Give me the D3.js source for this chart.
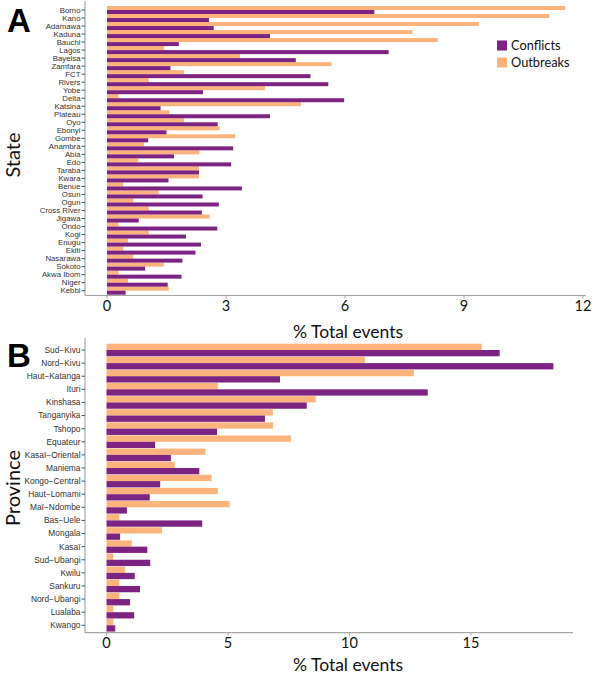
<!DOCTYPE html>
<html><head><meta charset="utf-8">
<script src="https://cdn.jsdelivr.net/npm/d3@7"></script>
<style>body{margin:0;background:#fff}svg{display:block}</style>
</head><body>
<svg id="c" width="600" height="677"></svg>
<script>
const states = ["Borno","Kano","Adamawa","Kaduna","Bauchi","Lagos","Bayelsa","Zamfara","FCT","Rivers","Yobe","Delta","Katsina","Plateau","Oyo","Ebonyi","Gombe","Anambra","Abia","Edo","Taraba","Kwara","Benue","Osun","Ogun","Cross River","Jigawa","Ondo","Kogi","Enugu","Ekiti","Nasarawa","Sokoto","Akwa Ibom","Niger","Kebbi"];
const stateConflicts = [6.74,2.57,2.69,4.11,1.81,7.10,4.76,1.60,5.13,5.58,2.42,5.98,1.35,4.11,2.79,1.50,1.04,3.18,1.69,3.13,2.32,1.55,3.40,2.41,2.82,2.39,0.80,2.78,1.99,2.37,2.23,1.90,0.96,1.88,1.53,0.47];
const stateOutbreaks = [11.55,11.15,9.37,7.70,8.34,1.44,3.35,5.66,1.94,1.05,3.98,0.29,4.89,1.57,1.94,2.84,3.23,0.93,2.33,0.79,2.32,2.32,0.41,1.30,0.66,1.05,2.59,0.29,1.05,0.53,0.41,0.66,1.43,0.29,0.53,1.56];
const provinces = ["Sud−Kivu","Nord−Kivu","Haut−Katanga","Ituri","Kinshasa","Tanganyika","Tshopo","Equateur","Kasaï−Oriental","Maniema","Kongo−Central","Haut−Lomami","Maï−Ndombe","Bas−Uele","Mongala","Kasaï","Sud−Ubangi","Kwilu","Sankuru","Nord−Ubangi","Lualaba","Kwango"];
const provConflicts = [16.18,18.39,7.14,13.22,8.24,6.52,4.55,2.00,2.65,3.82,2.21,1.78,0.84,3.94,0.56,1.68,1.80,1.16,1.38,0.97,1.14,0.36];
const provOutbreaks = [15.44,10.64,12.65,4.58,8.61,6.85,6.85,7.59,4.07,2.81,4.33,4.58,5.07,0.53,2.28,1.04,0.28,0.77,0.53,0.53,0.28,0.28];
const ticksA = [0,3,6,9,12];
const ticksB = [0,5,10,15];
const seriesNames = ["Conflicts","Outbreaks"];
const colors = {Conflicts:"#7d2482", Outbreaks:"#fdb47c"};

const svg = d3.select("#c");
const numFont = "Lato, 'Open Sans', sans-serif";
const labFont = "'Liberation Sans', Arial, sans-serif";
const axisCol = "#a6a6a6";

function panel(opts){
  const {cats, conf, outb, ticks, xDomain, xRange, yRange, axisTop, axisY, axisRight, letter, letterY, yTitle, yTitleY, labSize, barFrac, tickBase, titleBase} = opts;
  const g = svg.append("g");
  const x = d3.scaleLinear().domain(xDomain).range(xRange);
  const y = d3.scaleBand().domain(cats).range(yRange).paddingInner(0).paddingOuter(0);
  const sub = d3.scaleBand().domain(["Outbreaks","Conflicts"]).range([0, y.bandwidth()*barFrac]);
  const off = y.bandwidth()*(1-barFrac)/2;
  const rows = cats.map((c,i)=>({cat:c, Conflicts:conf[i], Outbreaks:outb[i]}));
  ["Outbreaks","Conflicts"].forEach(s=>{
    g.selectAll(null).data(rows).enter().append("rect")
      .attr("x", x(0))
      .attr("y", d=>y(d.cat)+off+sub(s))
      .attr("width", d=>x(d[s])-x(0))
      .attr("height", sub.bandwidth())
      .attr("fill", colors[s]);
  });
  const xLeft = 85;
  g.append("line").attr("x1",xLeft).attr("x2",xLeft).attr("y1",axisTop).attr("y2",axisY).attr("stroke",axisCol).attr("stroke-width",1.2);
  g.append("line").attr("x1",xLeft).attr("x2",axisRight).attr("y1",axisY).attr("y2",axisY).attr("stroke",axisCol).attr("stroke-width",1.2);
  const yc = d=>y(d)+y.bandwidth()/2;
  g.selectAll(null).data(cats).enter().append("line")
    .attr("x1",xLeft-3.5).attr("x2",xLeft).attr("y1",yc).attr("y2",yc).attr("stroke","#555").attr("stroke-width",1);
  g.selectAll(null).data(cats).enter().append("text")
    .attr("x",xLeft-4.5).attr("y",yc).attr("dy","0.35em").attr("text-anchor","end")
    .attr("font-family",labFont).attr("font-size",labSize).attr("fill","#333").text(d=>d);
  g.selectAll(null).data(ticks).enter().append("line")
    .attr("x1",d=>x(d)).attr("x2",d=>x(d)).attr("y1",axisY).attr("y2",axisY+3).attr("stroke",axisCol);
  g.selectAll(null).data(ticks).enter().append("text")
    .attr("x",d=>x(d)).attr("y",tickBase).attr("text-anchor","middle")
    .attr("font-family",numFont).attr("font-size",14.5).attr("fill","#111").text(d=>d);
  g.append("text").attr("x",348).attr("y",titleBase).attr("text-anchor","middle")
    .attr("font-family",numFont).attr("font-size",17.5).attr("fill","#111").text("% Total events");
  g.append("text").attr("transform",`translate(20,${yTitleY}) rotate(-90)`).attr("text-anchor","middle")
    .attr("font-family",numFont).attr("font-size",20).attr("fill","#111").text(yTitle);
  g.append("text").attr("x",7).attr("y",letterY).attr("font-family","'Liberation Sans', Arial, sans-serif")
    .attr("font-weight","bold").attr("font-size",33).attr("fill","#000").text(letter);
  return g;
}

panel({cats:states, conf:stateConflicts, outb:stateOutbreaks, ticks:ticksA,
  xDomain:[0,12], xRange:[107,583], yRange:[6,294.7], axisTop:1, axisY:295.5, axisRight:586,
  letter:"A", letterY:32, yTitle:"State", yTitleY:155, labSize:7.8, barFrac:1.0, tickBase:310.5, titleBase:337.5});
panel({cats:provinces, conf:provConflicts, outb:provOutbreaks, ticks:ticksB,
  xDomain:[0,15], xRange:[106.5,471], yRange:[343.45,631.85], axisTop:338, axisY:632.7, axisRight:573,
  letter:"B", letterY:367, yTitle:"Province", yTitleY:488, labSize:8.4, barFrac:0.96, tickBase:648, titleBase:670.5});

const leg = svg.append("g");
seriesNames.forEach((s,i)=>{
  leg.append("rect").attr("x",497).attr("y",40.5+i*17).attr("width",10).attr("height",10).attr("fill",colors[s]);
  leg.append("text").attr("x",511).attr("y",50+i*17).attr("font-family",numFont).attr("font-size",12.8).attr("fill","#111").text(s);
});
</script>
</body></html>
